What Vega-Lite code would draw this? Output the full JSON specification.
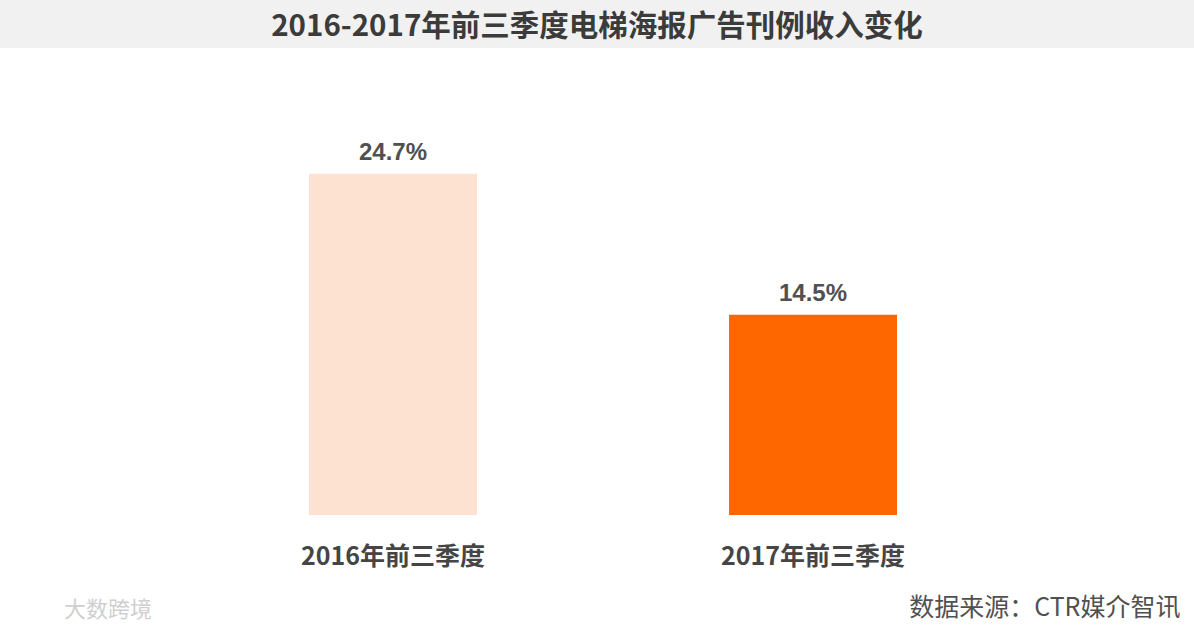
{
  "$schema": "https://vega.github.io/schema/vega-lite/v6.json",
  "padding": 0,
  "background": "#ffffff",
  "spacing": 0,
  "config": {"view": {"stroke": null}},
  "datasets": {
    "head": [{"t": "2016-2017年前三季度电梯海报广告刊例收入变化"}],
    "bars": [
      {"period": "2016年前三季度", "share": 24.7, "label": "24.7%"},
      {"period": "2017年前三季度", "share": 14.5, "label": "14.5%"}
    ]
  },
  "vconcat": [
    {
      "width": 1194,
      "height": 48,
      "view": {"fill": "#f1f1f1", "stroke": null},
      "data": {"name": "head"},
      "mark": {"type": "text", "font": "Noto Sans CJK SC", "fontWeight": "bold", "fontSize": 29.5, "color": "#3b3b3b", "baseline": "middle", "align": "center", "dy": 3},
      "encoding": {"text": {"field": "t"}}
    },
    {
      "width": 1180,
      "height": 467,
      "data": {"name": "bars"},
      "title": {"text": "大数跨境", "orient": "bottom", "anchor": "start", "font": "Noto Sans CJK SC", "fontSize": 22, "fontWeight": "normal", "color": "#cfcfcf", "dx": 64, "dy": -20, "offset": 0},
      "encoding": {
        "x": {
          "field": "period", "type": "nominal", "sort": null,
          "scale": {"paddingInner": 0.6, "paddingOuter": 0.7048, "align": 0.522},
          "axis": {
            "title": "数据来源：CTR媒介智讯",
            "titleAnchor": "end", "titleAlign": "right", "titleFont": "Noto Sans CJK SC", "titleFontSize": 25, "titleFontWeight": "normal", "titleColor": "#505050", "titlePadding": 26,
            "labelAngle": 0, "labelFont": "Noto Sans CJK SC", "labelFontSize": 25, "labelFontWeight": "bold", "labelColor": "#454545", "labelPadding": 29, "labelLimit": 400,
            "ticks": false, "domain": false, "grid": false
          }
        },
        "y": {"field": "share", "type": "quantitative", "scale": {"domain": [0, 33.8], "nice": false, "zero": true}, "axis": null}
      },
      "layer": [
        {
          "mark": {"type": "bar"},
          "encoding": {
            "color": {"field": "period", "type": "nominal", "scale": {"range": ["#fde1d1", "#fe6700"]}, "legend": null}
          }
        },
        {
          "mark": {"type": "text", "font": "Liberation Sans", "fontWeight": "bold", "fontSize": 24, "color": "#505050", "baseline": "alphabetic", "dy": -14},
          "encoding": {"text": {"field": "label"}}
        }
      ]
    }
  ]
}
